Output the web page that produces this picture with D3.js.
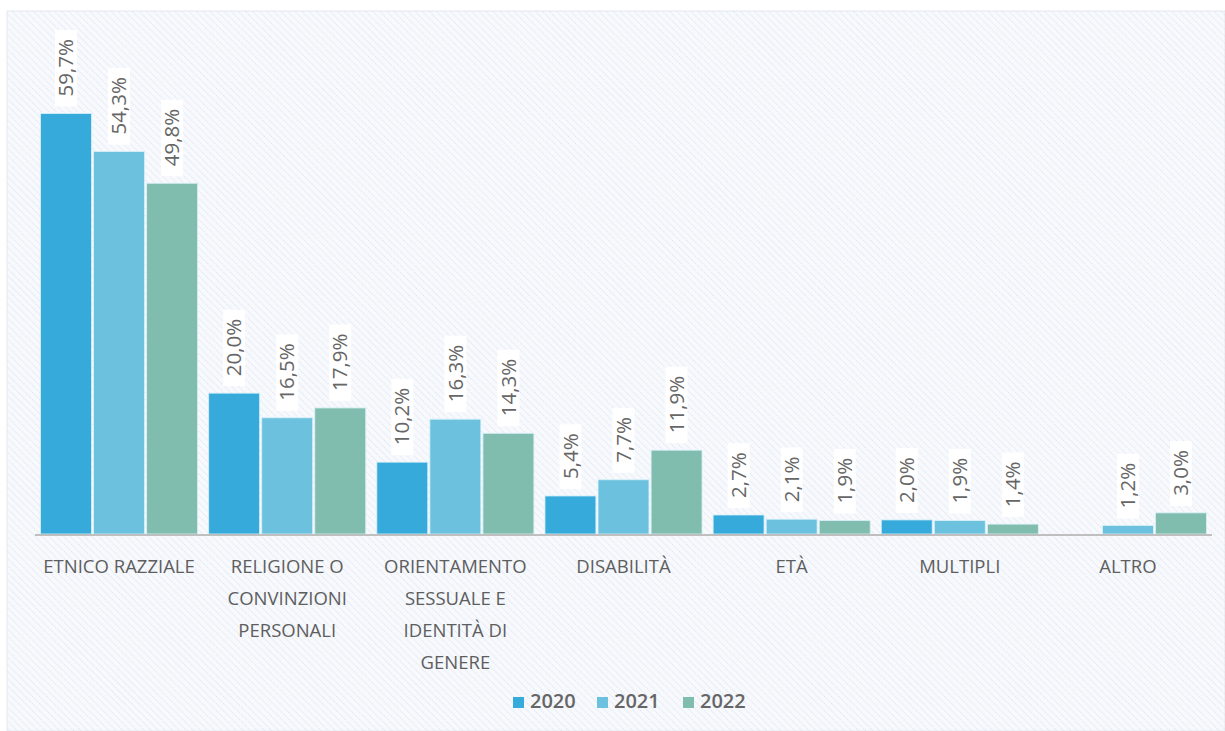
<!DOCTYPE html>
<html>
<head>
<meta charset="utf-8">
<script src="https://cdn.jsdelivr.net/npm/d3@7"></script>
<style>
  body { margin: 0; background: #ffffff; }
  svg { display: block; }
  .bar-label { font-family: "Open Sans", sans-serif; font-size: 20.5px; font-weight: 400; fill: #666666; }
  .cat-label { font-family: "Open Sans", sans-serif; font-size: 18.5px; font-weight: 400; fill: #5e5e5e; }
  .legend-text { font-family: "Open Sans", sans-serif; font-size: 20px; font-weight: 600; fill: #666666; }
</style>
</head>
<body>
<div id="chart"></div>
<script>
// categories (multi-line labels split on "|")
const categories = [
    "ETNICO RAZZIALE",
    "RELIGIONE O|CONVINZIONI|PERSONALI",
    "ORIENTAMENTO|SESSUALE E|IDENTITÀ DI|GENERE",
    "DISABILITÀ",
    "ETÀ",
    "MULTIPLI",
    "ALTRO"
];
const years = ["2020", "2021", "2022"];

// values in % per year (null = no value)
const values2020 = [59.7, 20.0, 10.2, 5.4, 2.7, 2.0, null];
const values2021 = [54.3, 16.5, 16.3, 7.7, 2.1, 1.9, 1.2];
const values2022 = [49.8, 17.9, 14.3, 11.9, 1.9, 1.4, 3.0];

const colors = ["#36aadb", "#6cc2de", "#80bdae"];

const W = 1225, H = 731;
const margin = {top: 41, right: 13, bottom: 197, left: 35};

const svg = d3.select("#chart").append("svg")
    .attr("width", W)
    .attr("height", H);

// hatched background
const defs = svg.append("defs");
const pat = defs.append("pattern")
    .attr("id", "hatch")
    .attr("patternUnits", "userSpaceOnUse")
    .attr("width", 5)
    .attr("height", 5)
    .attr("patternTransform", "rotate(-45)");
pat.append("rect").attr("width", 5).attr("height", 5).attr("fill", "#f7f9fd");
pat.append("line")
    .attr("x1", 0).attr("y1", 0).attr("x2", 0).attr("y2", 5)
    .attr("stroke", "#dbe2ee")
    .attr("stroke-width", 1.6)
    .attr("stroke-dasharray", "1.5,1");

svg.append("rect")
    .attr("x", 7).attr("y", 11)
    .attr("width", W - 7).attr("height", H - 11)
    .attr("fill", "url(#hatch)")
    .attr("stroke", "#e4e8ee");

const width = W - margin.left - margin.right;
const height = H - margin.top - margin.bottom;

const g = svg.append("g")
    .attr("transform", `translate(${margin.left},${margin.top})`);

const x0 = d3.scaleBand()
    .domain(categories)
    .range([0, width])
    .paddingInner(0.066)
    .paddingOuter(0.033);

const x1 = d3.scaleBand()
    .domain(years)
    .range([0, x0.bandwidth()])
    .paddingInner(0.04);

const y = d3.scaleLinear()
    .domain([0, 70])
    .range([height, 0]);

const color = d3.scaleOrdinal().domain(years).range(colors);

const data = categories.map((c, i) => ({
    cat: c,
    vals: [values2020[i], values2021[i], values2022[i]].map((v, j) => ({year: years[j], value: v}))
}));

const fmt = v => d3.format(".1f")(v).replace(".", ",") + "%";

const groups = g.selectAll(".group")
    .data(data)
    .enter().append("g")
    .attr("class", "group")
    .attr("transform", d => `translate(${x0(d.cat)},0)`);

// bars
groups.selectAll("rect")
    .data(d => d.vals.filter(v => v.value !== null))
    .enter().append("rect")
    .attr("x", d => x1(d.year))
    .attr("y", d => y(d.value))
    .attr("width", x1.bandwidth())
    .attr("height", d => height - y(d.value))
    .attr("fill", d => color(d.year))
    .attr("stroke", "#d8f0f8")
    .attr("stroke-width", 0.8);

// data labels (rotated, white box)
const labels = groups.selectAll(".lbl")
    .data(d => d.vals.filter(v => v.value !== null))
    .enter().append("g")
    .attr("class", "lbl")
    .attr("transform", d => `translate(${x1(d.year) + x1.bandwidth() / 2},${y(d.value) - 17}) rotate(-90)`);

labels.each(function(d) {
    const sel = d3.select(this);
    const t = sel.append("text")
        .attr("class", "bar-label")
        .attr("x", 0)
        .attr("y", 0)
        .attr("dy", "0.35em")
        .attr("text-anchor", "start")
        .text(fmt(d.value));
    const bb = t.node().getBBox();
    sel.insert("rect", "text")
        .attr("x", bb.x - 10)
        .attr("y", -11)
        .attr("width", bb.width + 19)
        .attr("height", 22)
        .attr("fill", "#ffffff");
});

// baseline
g.append("line")
    .attr("x1", 0).attr("x2", width)
    .attr("y1", height + 1).attr("y2", height + 1)
    .attr("stroke", "#bfbfbf")
    .attr("stroke-width", 2);

// category labels
groups.append("text")
    .attr("class", "cat-label")
    .attr("text-anchor", "middle")
    .attr("x", x0.bandwidth() / 2)
    .attr("y", height + 39)
    .selectAll("tspan")
    .data(d => d.cat.split("|"))
    .enter().append("tspan")
    .attr("x", x0.bandwidth() / 2)
    .attr("dy", (d, i) => i === 0 ? 0 : 32)
    .text(d => d);

// legend
const legendX = [513, 597, 683];
const legend = svg.append("g").selectAll(".legend")
    .data(years)
    .enter().append("g")
    .attr("class", "legend")
    .attr("transform", (d, i) => `translate(${legendX[i]},697)`);

legend.append("rect")
    .attr("width", 11).attr("height", 11)
    .attr("fill", d => color(d));

legend.append("text")
    .attr("class", "legend-text")
    .attr("x", 17)
    .attr("y", 11)
    .text(d => d);
</script>
</body>
</html>
